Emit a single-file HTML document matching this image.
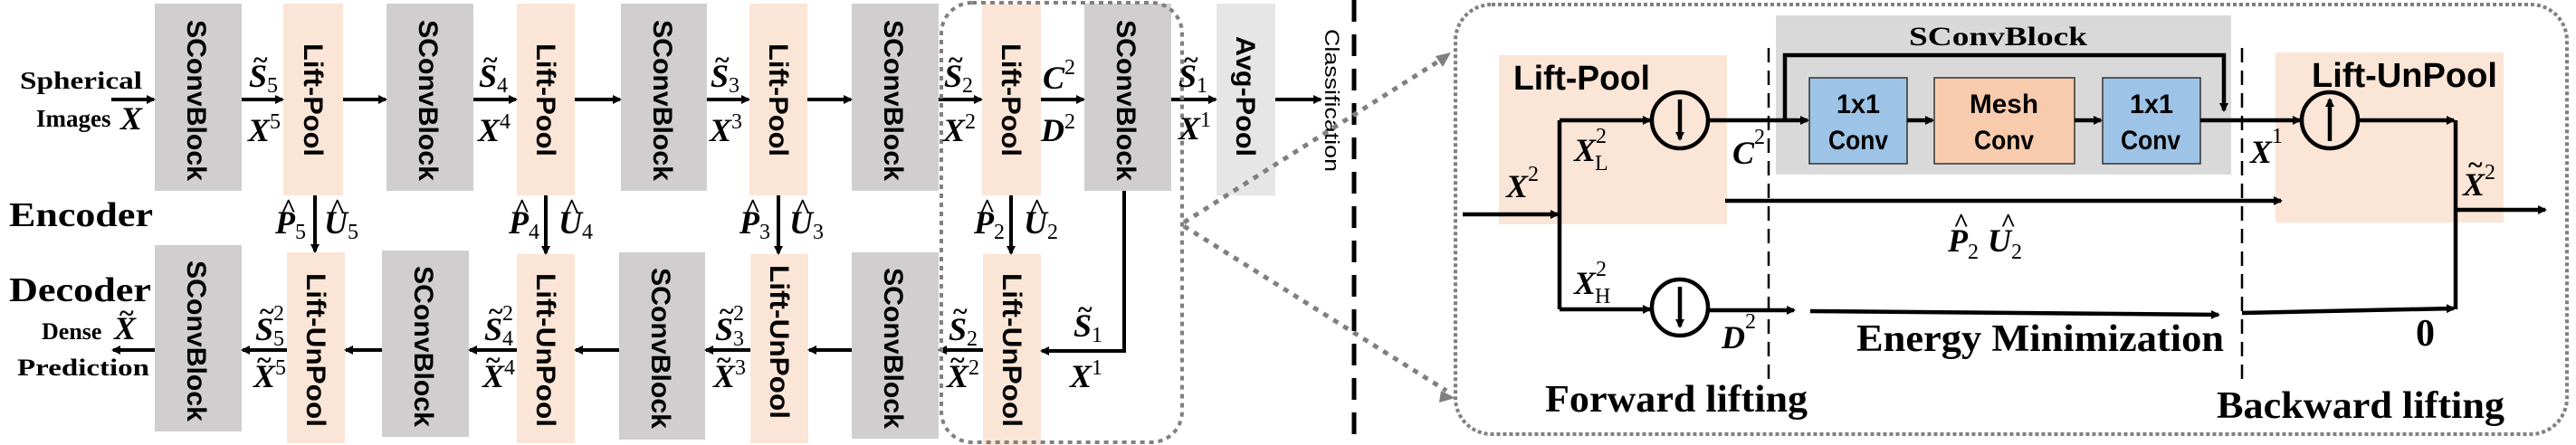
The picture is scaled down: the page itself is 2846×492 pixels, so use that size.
<!DOCTYPE html>
<html><head><meta charset="utf-8"><style>
body{margin:0;background:#fff}
svg{display:block}
.b{font-family:"Liberation Sans",sans-serif;font-weight:bold}
.s{font-family:"Liberation Serif",serif;font-weight:bold}
.m{font-family:"Liberation Serif",serif;font-weight:bold;font-style:italic;font-size:36px}
.sub{font-style:normal;font-size:24px;font-weight:normal}
.t{font-family:"Liberation Serif",serif;font-weight:bold;font-size:30px}
</style></head><body>
<svg width="2846" height="492" viewBox="0 0 2846 492" xmlns="http://www.w3.org/2000/svg">
<defs>
<marker id="a" markerWidth="10" markerHeight="10" refX="8" refY="5" orient="auto" markerUnits="userSpaceOnUse"><path d="M0,0 L10,5 L0,10 z" fill="#000"/></marker>
</defs>
<g fill="#d0cece">
<rect x="171" y="4" width="96" height="207"/><rect x="427" y="4" width="96" height="207"/><rect x="686" y="4" width="95" height="207"/><rect x="941" y="4" width="96" height="207"/><rect x="1198" y="4" width="96" height="207"/>
<rect x="171" y="271" width="96" height="206"/><rect x="422" y="277" width="96" height="206"/><rect x="684" y="279" width="95" height="207"/><rect x="941" y="279" width="96" height="206"/>
</g>
<g fill="#fbe5d6">
<rect x="313" y="4" width="66" height="212"/><rect x="571" y="4" width="64" height="212"/><rect x="828" y="4" width="64" height="212"/><rect x="1085" y="4" width="65" height="212"/>
<rect x="317" y="279" width="64" height="211"/><rect x="571" y="281" width="64" height="209"/><rect x="829" y="281" width="64" height="209"/><rect x="1086" y="281" width="64" height="211"/>
</g>
<rect x="1344" y="4" width="65" height="212" fill="#e7e6e6"/>
<g class="b" font-size="30">
<text transform="translate(207,22) rotate(90)" textLength="178" lengthAdjust="spacingAndGlyphs">SConvBlock</text>
<text transform="translate(463,22) rotate(90)" textLength="178" lengthAdjust="spacingAndGlyphs">SConvBlock</text>
<text transform="translate(722,22) rotate(90)" textLength="178" lengthAdjust="spacingAndGlyphs">SConvBlock</text>
<text transform="translate(977,22) rotate(90)" textLength="178" lengthAdjust="spacingAndGlyphs">SConvBlock</text>
<text transform="translate(1234,22) rotate(90)" textLength="178" lengthAdjust="spacingAndGlyphs">SConvBlock</text>
<text transform="translate(207,288) rotate(90)" textLength="178" lengthAdjust="spacingAndGlyphs">SConvBlock</text>
<text transform="translate(458,294) rotate(90)" textLength="178" lengthAdjust="spacingAndGlyphs">SConvBlock</text>
<text transform="translate(720,296) rotate(90)" textLength="178" lengthAdjust="spacingAndGlyphs">SConvBlock</text>
<text transform="translate(977,296) rotate(90)" textLength="178" lengthAdjust="spacingAndGlyphs">SConvBlock</text>
<text transform="translate(336,48) rotate(90)" textLength="125" lengthAdjust="spacingAndGlyphs">Lift-Pool</text>
<text transform="translate(593,48) rotate(90)" textLength="125" lengthAdjust="spacingAndGlyphs">Lift-Pool</text>
<text transform="translate(850,48) rotate(90)" textLength="125" lengthAdjust="spacingAndGlyphs">Lift-Pool</text>
<text transform="translate(1107,48) rotate(90)" textLength="125" lengthAdjust="spacingAndGlyphs">Lift-Pool</text>
<text transform="translate(1366,40) rotate(90)" textLength="133" lengthAdjust="spacingAndGlyphs">Avg-Pool</text>
<text transform="translate(339,302) rotate(90)" textLength="170" lengthAdjust="spacingAndGlyphs">Lift-UnPool</text>
<text transform="translate(593,302) rotate(90)" textLength="170" lengthAdjust="spacingAndGlyphs">Lift-UnPool</text>
<text transform="translate(851,293) rotate(90)" textLength="170" lengthAdjust="spacingAndGlyphs">Lift-UnPool</text>
<text transform="translate(1108,302) rotate(90)" textLength="170" lengthAdjust="spacingAndGlyphs">Lift-UnPool</text>
</g>
<text transform="translate(1464,32) rotate(90)" font-family="Liberation Sans,sans-serif" font-size="22" textLength="158" lengthAdjust="spacingAndGlyphs">Classification</text>
<line x1="1496" y1="0" x2="1496" y2="492" stroke="#000" stroke-width="5" stroke-dasharray="24,14"/>
<g stroke="#000" stroke-width="4" marker-end="url(#a)" fill="none">
<line x1="123" y1="110" x2="170" y2="110"/><line x1="267" y1="110" x2="312" y2="110"/><line x1="379" y1="110" x2="426" y2="110"/><line x1="523" y1="110" x2="570" y2="110"/><line x1="635" y1="110" x2="685" y2="110"/><line x1="781" y1="110" x2="827" y2="110"/><line x1="892" y1="110" x2="940" y2="110"/><line x1="1037" y1="110" x2="1084" y2="110"/><line x1="1150" y1="110" x2="1197" y2="110"/><line x1="1294" y1="110" x2="1343" y2="110"/><line x1="1409" y1="110" x2="1459" y2="110"/>
<line x1="171" y1="387" x2="125" y2="387"/><line x1="317" y1="387" x2="268" y2="387"/><line x1="422" y1="387" x2="382" y2="387"/><line x1="571" y1="387" x2="519" y2="387"/><line x1="684" y1="387" x2="636" y2="387"/><line x1="829" y1="387" x2="780" y2="387"/><line x1="941" y1="387" x2="894" y2="387"/><line x1="1086" y1="387" x2="1038" y2="387"/>
<line x1="348" y1="216" x2="348" y2="278"/><line x1="603" y1="216" x2="603" y2="280"/><line x1="860" y1="216" x2="860" y2="280"/><line x1="1117" y1="216" x2="1117" y2="280"/>
<polyline points="1242,211 1242,388 1151,388"/>
</g>
<rect x="1040" y="3" width="266" height="486" rx="34" fill="none" stroke="#808080" stroke-width="4" stroke-dasharray="5,5"/>
<g stroke="#808080" stroke-width="5" stroke-dasharray="6,7" fill="none">
<line x1="1308" y1="246" x2="1592" y2="66"/><line x1="1308" y1="250" x2="1598" y2="432"/>
</g>
<path d="M1603,58 L1586,62 L1594,74 z" fill="#808080"/><path d="M1608,440 L1592,432 L1590,445 z" fill="#808080"/>
<g class="s">
<text x="22" y="98" font-size="27" textLength="135" lengthAdjust="spacingAndGlyphs">Spherical</text>
<text x="40" y="140" font-size="27">Images</text>
<text x="10" y="250" font-size="38" textLength="159" lengthAdjust="spacingAndGlyphs">Encoder</text>
<text x="10" y="333" font-size="38" textLength="157" lengthAdjust="spacingAndGlyphs">Decoder</text>
<text x="46" y="375" font-size="26">Dense</text>
<text x="19" y="415" font-size="26" textLength="146" lengthAdjust="spacingAndGlyphs">Prediction</text>
</g>
<text class="m" x="133" y="143">X</text>
<text class="m" x="126" y="375">X</text><text class="t" x="132" y="356">~</text>
<g class="m">
<text x="275" y="96">S<tspan class="sub" dy="6">5</tspan></text><text x="274" y="156">X<tspan class="sub" dy="-14">5</tspan></text>
<text x="529" y="96">S<tspan class="sub" dy="6">4</tspan></text><text x="528" y="156">X<tspan class="sub" dy="-14">4</tspan></text>
<text x="785" y="96">S<tspan class="sub" dy="6">3</tspan></text><text x="784" y="156">X<tspan class="sub" dy="-14">3</tspan></text>
<text x="1043" y="96">S<tspan class="sub" dy="6">2</tspan></text><text x="1042" y="156">X<tspan class="sub" dy="-14">2</tspan></text>
<text x="1152" y="98">C<tspan class="sub" dy="-16">2</tspan></text><text x="1150" y="156">D<tspan class="sub" dy="-14">2</tspan></text>
<text x="1302" y="96">S<tspan class="sub" dy="6">1</tspan></text><text x="1302" y="154">X<tspan class="sub" dy="-14">1</tspan></text>
<text x="304" y="258">P<tspan class="sub" dy="6">5</tspan></text><text x="358" y="258">U<tspan class="sub" dy="6">5</tspan></text>
<text x="562" y="258">P<tspan class="sub" dy="6">4</tspan></text><text x="617" y="258">U<tspan class="sub" dy="6">4</tspan></text>
<text x="817" y="258">P<tspan class="sub" dy="6">3</tspan></text><text x="872" y="258">U<tspan class="sub" dy="6">3</tspan></text>
<text x="1076" y="258">P<tspan class="sub" dy="6">2</tspan></text><text x="1131" y="258">U<tspan class="sub" dy="6">2</tspan></text>
<text x="282" y="376">S<tspan class="sub" dy="6">5</tspan><tspan class="sub" dx="-12" dy="-28">2</tspan></text><text x="280" y="428">X<tspan class="sub" dy="-14">5</tspan></text>
<text x="535" y="376">S<tspan class="sub" dy="6">4</tspan><tspan class="sub" dx="-12" dy="-28">2</tspan></text><text x="533" y="428">X<tspan class="sub" dy="-14">4</tspan></text>
<text x="790" y="376">S<tspan class="sub" dy="6">3</tspan><tspan class="sub" dx="-12" dy="-28">2</tspan></text><text x="788" y="428">X<tspan class="sub" dy="-14">3</tspan></text>
<text x="1048" y="376">S<tspan class="sub" dy="6">2</tspan></text><text x="1046" y="428">X<tspan class="sub" dy="-14">2</tspan></text>
<text x="1186" y="372">S<tspan class="sub" dy="6">1</tspan></text><text x="1182" y="428">X<tspan class="sub" dy="-14">1</tspan></text>
</g>
<g class="t">
<text x="280" y="76">~</text><text x="534" y="76">~</text><text x="790" y="76">~</text><text x="1048" y="76">~</text><text x="1308" y="76">~</text>
<text x="287" y="354">~</text><text x="540" y="354">~</text><text x="795" y="354">~</text><text x="1053" y="354">~</text><text x="1191" y="352">~</text>
<text x="284" y="408">~</text><text x="537" y="408">~</text><text x="792" y="408">~</text><text x="1050" y="408">~</text>
<text x="310" y="240">^</text><text x="364" y="240">^</text><text x="568" y="240">^</text><text x="623" y="240">^</text><text x="823" y="240">^</text><text x="878" y="240">^</text><text x="1082" y="240">^</text><text x="1137" y="240">^</text>
</g>
<!-- right panel -->
<rect x="1608" y="5" width="1228" height="475" rx="40" fill="none" stroke="#808080" stroke-width="4" stroke-dasharray="4,3"/>
<rect x="1656" y="61" width="252" height="187" fill="#fbe5d6"/>
<rect x="2514" y="58" width="252" height="188" fill="#fbe5d6"/>
<rect x="1962" y="17" width="503" height="176" fill="#d9d9d9"/>
<rect x="1999" y="86" width="108" height="95" fill="#9dc3e6" stroke="#333" stroke-width="1.5"/>
<rect x="2137" y="86" width="155" height="95" fill="#f8cbad" stroke="#333" stroke-width="1.5"/>
<rect x="2323" y="86" width="108" height="95" fill="#9dc3e6" stroke="#333" stroke-width="1.5"/>
<g class="b" font-size="30" font-weight="normal">
<text x="2029" y="125" textLength="48" lengthAdjust="spacingAndGlyphs">1x1</text><text x="2020" y="165" textLength="66" lengthAdjust="spacingAndGlyphs">Conv</text>
<text x="2176" y="125" textLength="76" lengthAdjust="spacingAndGlyphs">Mesh</text><text x="2181" y="165" textLength="66" lengthAdjust="spacingAndGlyphs">Conv</text>
<text x="2353" y="125" textLength="48" lengthAdjust="spacingAndGlyphs">1x1</text><text x="2343" y="165" textLength="66" lengthAdjust="spacingAndGlyphs">Conv</text>
</g>
<text class="b" x="1672" y="99" font-size="38" textLength="151" lengthAdjust="spacingAndGlyphs">Lift-Pool</text>
<text class="b" x="2554" y="96" font-size="38" textLength="205" lengthAdjust="spacingAndGlyphs">Lift-UnPool</text>
<text class="s" x="2109" y="50" font-size="30" textLength="197" lengthAdjust="spacingAndGlyphs">SConvBlock</text>
<g stroke="#000" stroke-width="2.5" stroke-dasharray="16,9">
<line x1="1954" y1="53" x2="1954" y2="423"/><line x1="2477" y1="53" x2="2477" y2="425"/>
</g>
<g stroke="#000" stroke-width="4.5" fill="none">
<circle cx="1856" cy="133" r="31"/><circle cx="1856" cy="340" r="31"/><circle cx="2574" cy="133" r="31"/>
<polyline points="1723,133 1723,342"/>
<polyline points="1972,133 1972,61 2457,61 2457,122" marker-end="url(#a)"/>
<polyline points="2713,133 2713,342"/>
</g>
<g stroke="#000" stroke-width="4.5" marker-end="url(#a)">
<line x1="1616" y1="237" x2="1721" y2="237"/>
<line x1="1723" y1="133" x2="1823" y2="133"/>
<line x1="1723" y1="342" x2="1823" y2="342"/>
<line x1="1887" y1="133" x2="1997" y2="133"/>
<line x1="2107" y1="133" x2="2135" y2="133"/>
<line x1="2292" y1="133" x2="2321" y2="133"/>
<line x1="2431" y1="133" x2="2541" y2="133"/>
<line x1="2605" y1="133" x2="2711" y2="133"/>
<line x1="2713" y1="232" x2="2812" y2="232"/>
<line x1="1906" y1="222" x2="2520" y2="222"/>
<line x1="1887" y1="343" x2="1982" y2="343"/>
<line x1="2000" y1="344" x2="2451" y2="348"/>
<line x1="2477" y1="346" x2="2711" y2="341"/>
<line x1="1856" y1="110" x2="1856" y2="154"/>
<line x1="1856" y1="317" x2="1856" y2="361"/>
<line x1="2574" y1="156" x2="2574" y2="110"/>
</g>
<g class="m" font-size="40">
<text x="1664" y="218">X<tspan class="sub" font-size="26" dy="-18">2</tspan></text>
<text x="1739" y="178">X<tspan class="sub" font-size="26" dy="-20">2</tspan><tspan class="sub" font-size="26" dx="-13" dy="30" font-style="italic">L</tspan></text>
<text x="1739" y="325">X<tspan class="sub" font-size="26" dy="-20">2</tspan><tspan class="sub" font-size="26" dx="-13" dy="30" font-style="italic">H</tspan></text>
<text x="1914" y="181">C<tspan class="sub" font-size="26" dy="-22">2</tspan></text>
<text x="1902" y="385">D<tspan class="sub" font-size="26" dy="-22">2</tspan></text>
<text x="2486" y="180">X<tspan class="sub" font-size="26" dy="-22">1</tspan></text>
<text x="2721" y="216">X<tspan class="sub" font-size="26" dy="-18">2</tspan></text>
<text x="2152" y="278">P<tspan class="sub" font-size="26" dy="8">2</tspan><tspan dx="10" dy="-8">U</tspan><tspan class="sub" font-size="26" dy="8">2</tspan></text>
</g>
<g class="t" font-size="32"><text x="2727" y="192">~</text><text x="2158" y="256">^</text><text x="2210" y="256">^</text></g>
<g class="s" font-size="42">
<text x="2051" y="388" textLength="406" lengthAdjust="spacingAndGlyphs">Energy Minimization</text>
<text x="2669" y="382">0</text>
<text x="1707" y="455" textLength="290" lengthAdjust="spacingAndGlyphs">Forward lifting</text>
<text x="2449" y="462" textLength="318" lengthAdjust="spacingAndGlyphs">Backward lifting</text>
</g>
</svg>
</body></html>
